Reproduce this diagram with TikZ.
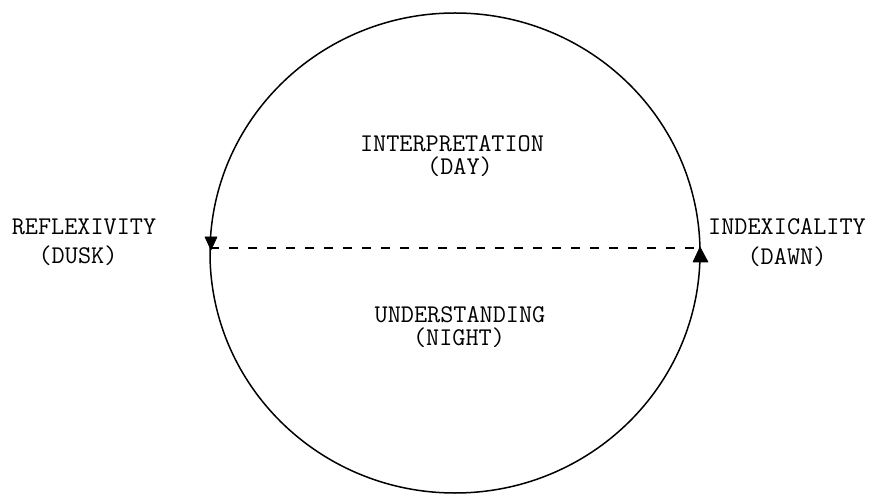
\documentclass[tikz,border=0pt]{standalone}
\begin{document}
\begin{tikzpicture}[x=1pt,y=1pt,
  lbl/.style={font=\fontsize{25.5}{30}\selectfont\ttfamily, inner sep=0pt, anchor=base},
  tri/.style={fill=black, draw=black, line width=0.6pt, line join=round}]
\useasboundingbox (0,0) rectangle (873,496);
% circle
\coordinate (C) at (455,243);
\draw[line width=1.5pt] (C) ellipse [x radius=245, y radius=240];
% dashed diameter
\coordinate (L) at (210,248);
\coordinate (R) at (700,248);
\draw[line width=1.3pt, dash pattern=on 9pt off 10pt] (L) -- (R);
% arrowheads
\fill[tri] (205,259) -- (217,259) -- (211,246) -- cycle;
\fill[tri] (693,234) -- (708,234) -- (700,249) -- cycle;
% labels
\node[lbl] (refl) at (84,261) {REFLEXIVITY};
\node[lbl] (dusk) at (78,233) {(DUSK)};
\node[lbl] (index) at (787,261) {INDEXICALITY};
\node[lbl] (dawn) at (787,231) {(DAWN)};
\node[lbl] (interp) at (452,344) {INTERPRETATION};
\node[lbl] (day) at (460,321) {(DAY)};
\node[lbl] (under) at (460,174) {UNDERSTANDING};
\node[lbl] (night) at (459,151) {(NIGHT)};
\end{tikzpicture}
\end{document}
